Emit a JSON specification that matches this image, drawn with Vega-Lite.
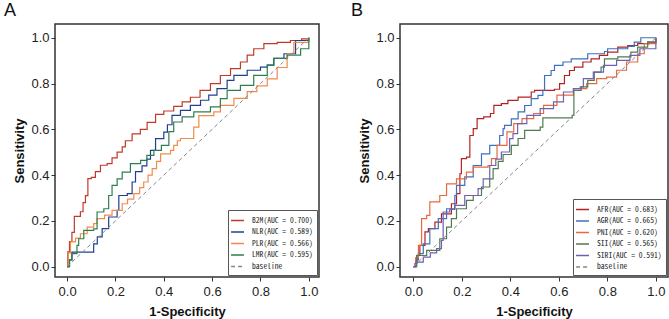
{
"$schema": "https://vega.github.io/schema/vega-lite/v6.json",
"padding": {"left": 3, "top": 1, "right": 0, "bottom": 0},
"bounds": "flush",
"spacing": 81,
"config": {
  "view": {"stroke": "#333333", "strokeWidth": 1.5},
  "axis": {"grid": false, "domain": false, "labelFont": "Liberation Sans", "labelFontSize": 13, "labelColor": "#222222", "tickSize": 4, "tickColor": "#333333", "tickWidth": 1, "titleFont": "Liberation Sans", "titleFontSize": 13, "titleFontWeight": "bold", "titleColor": "#111111", "labelFlush": false},
  "axisX": {"labelPadding": 4, "titlePadding": 7},
  "axisY": {"labelPadding": 2, "titlePadding": 4},
  "legend": {"orient": "bottom-right", "title": null, "symbolType": "M-1.35,0H1", "symbolSize": 121, "symbolStrokeWidth": 1.5, "labelFont": "Noto Sans Mono CJK SC, DejaVu Sans Mono", "labelFontSize": 7.6, "labelColor": "#222222", "strokeColor": "#555555", "fillColor": "white", "padding": 4, "offset": 2, "rowPadding": 0.5, "labelOffset": 7},
  "title": {"font": "Liberation Sans", "fontSize": 18, "fontWeight": "normal", "anchor": "start", "frame": "group", "color": "#111111"}
},
"resolve": {"scale": {"color": "independent", "strokeDash": "independent", "x": "independent", "y": "independent"}, "legend": {"color": "independent", "strokeDash": "independent"}},
"datasets": {
  "A": [
    {"s":"B2M(AUC = 0.700)","x":0,"y":0},{"s":"B2M(AUC = 0.700)","x":0.003,"y":0.065},{"s":"B2M(AUC = 0.700)","x":0.01,"y":0.11},{"s":"B2M(AUC = 0.700)","x":0.02,"y":0.15},{"s":"B2M(AUC = 0.700)","x":0.03,"y":0.22},{"s":"B2M(AUC = 0.700)","x":0.055,"y":0.24},{"s":"B2M(AUC = 0.700)","x":0.066,"y":0.28},{"s":"B2M(AUC = 0.700)","x":0.076,"y":0.31},{"s":"B2M(AUC = 0.700)","x":0.086,"y":0.385},{"s":"B2M(AUC = 0.700)","x":0.1,"y":0.39},{"s":"B2M(AUC = 0.700)","x":0.117,"y":0.415},{"s":"B2M(AUC = 0.700)","x":0.138,"y":0.443},{"s":"B2M(AUC = 0.700)","x":0.166,"y":0.45},{"s":"B2M(AUC = 0.700)","x":0.186,"y":0.475},{"s":"B2M(AUC = 0.700)","x":0.207,"y":0.5},{"s":"B2M(AUC = 0.700)","x":0.228,"y":0.523},{"s":"B2M(AUC = 0.700)","x":0.241,"y":0.55},{"s":"B2M(AUC = 0.700)","x":0.269,"y":0.58},{"s":"B2M(AUC = 0.700)","x":0.303,"y":0.6},{"s":"B2M(AUC = 0.700)","x":0.331,"y":0.63},{"s":"B2M(AUC = 0.700)","x":0.366,"y":0.665},{"s":"B2M(AUC = 0.700)","x":0.4,"y":0.68},{"s":"B2M(AUC = 0.700)","x":0.441,"y":0.7},{"s":"B2M(AUC = 0.700)","x":0.476,"y":0.72},{"s":"B2M(AUC = 0.700)","x":0.51,"y":0.74},{"s":"B2M(AUC = 0.700)","x":0.55,"y":0.77},{"s":"B2M(AUC = 0.700)","x":0.593,"y":0.8},{"s":"B2M(AUC = 0.700)","x":0.634,"y":0.835},{"s":"B2M(AUC = 0.700)","x":0.676,"y":0.865},{"s":"B2M(AUC = 0.700)","x":0.717,"y":0.894},{"s":"B2M(AUC = 0.700)","x":0.745,"y":0.924},{"s":"B2M(AUC = 0.700)","x":0.772,"y":0.952},{"s":"B2M(AUC = 0.700)","x":0.814,"y":0.974},{"s":"B2M(AUC = 0.700)","x":0.869,"y":0.98},{"s":"B2M(AUC = 0.700)","x":0.924,"y":0.988},{"s":"B2M(AUC = 0.700)","x":0.97,"y":0.995},{"s":"B2M(AUC = 0.700)","x":1,"y":1},
    {"s":"NLR(AUC = 0.589)","x":0,"y":0},{"s":"NLR(AUC = 0.589)","x":0.01,"y":0.03},{"s":"NLR(AUC = 0.589)","x":0.02,"y":0.064},{"s":"NLR(AUC = 0.589)","x":0.11,"y":0.1},{"s":"NLR(AUC = 0.589)","x":0.125,"y":0.13},{"s":"NLR(AUC = 0.589)","x":0.145,"y":0.166},{"s":"NLR(AUC = 0.589)","x":0.172,"y":0.217},{"s":"NLR(AUC = 0.589)","x":0.207,"y":0.246},{"s":"NLR(AUC = 0.589)","x":0.214,"y":0.311},{"s":"NLR(AUC = 0.589)","x":0.249,"y":0.319},{"s":"NLR(AUC = 0.589)","x":0.269,"y":0.37},{"s":"NLR(AUC = 0.589)","x":0.283,"y":0.415},{"s":"NLR(AUC = 0.589)","x":0.31,"y":0.44},{"s":"NLR(AUC = 0.589)","x":0.33,"y":0.47},{"s":"NLR(AUC = 0.589)","x":0.345,"y":0.508},{"s":"NLR(AUC = 0.589)","x":0.366,"y":0.559},{"s":"NLR(AUC = 0.589)","x":0.4,"y":0.588},{"s":"NLR(AUC = 0.589)","x":0.415,"y":0.62},{"s":"NLR(AUC = 0.589)","x":0.434,"y":0.661},{"s":"NLR(AUC = 0.589)","x":0.469,"y":0.683},{"s":"NLR(AUC = 0.589)","x":0.51,"y":0.705},{"s":"NLR(AUC = 0.589)","x":0.552,"y":0.727},{"s":"NLR(AUC = 0.589)","x":0.586,"y":0.749},{"s":"NLR(AUC = 0.589)","x":0.62,"y":0.778},{"s":"NLR(AUC = 0.589)","x":0.662,"y":0.814},{"s":"NLR(AUC = 0.589)","x":0.69,"y":0.836},{"s":"NLR(AUC = 0.589)","x":0.745,"y":0.858},{"s":"NLR(AUC = 0.589)","x":0.8,"y":0.872},{"s":"NLR(AUC = 0.589)","x":0.828,"y":0.88},{"s":"NLR(AUC = 0.589)","x":0.855,"y":0.91},{"s":"NLR(AUC = 0.589)","x":0.897,"y":0.93},{"s":"NLR(AUC = 0.589)","x":0.945,"y":0.988},{"s":"NLR(AUC = 0.589)","x":1,"y":1},
    {"s":"PLR(AUC = 0.566)","x":0,"y":0},{"s":"PLR(AUC = 0.566)","x":0.005,"y":0.06},{"s":"PLR(AUC = 0.566)","x":0.014,"y":0.108},{"s":"PLR(AUC = 0.566)","x":0.035,"y":0.125},{"s":"PLR(AUC = 0.566)","x":0.055,"y":0.144},{"s":"PLR(AUC = 0.566)","x":0.083,"y":0.173},{"s":"PLR(AUC = 0.566)","x":0.11,"y":0.188},{"s":"PLR(AUC = 0.566)","x":0.124,"y":0.21},{"s":"PLR(AUC = 0.566)","x":0.155,"y":0.225},{"s":"PLR(AUC = 0.566)","x":0.186,"y":0.246},{"s":"PLR(AUC = 0.566)","x":0.228,"y":0.275},{"s":"PLR(AUC = 0.566)","x":0.25,"y":0.295},{"s":"PLR(AUC = 0.566)","x":0.276,"y":0.319},{"s":"PLR(AUC = 0.566)","x":0.3,"y":0.345},{"s":"PLR(AUC = 0.566)","x":0.317,"y":0.37},{"s":"PLR(AUC = 0.566)","x":0.335,"y":0.4},{"s":"PLR(AUC = 0.566)","x":0.352,"y":0.428},{"s":"PLR(AUC = 0.566)","x":0.37,"y":0.46},{"s":"PLR(AUC = 0.566)","x":0.387,"y":0.493},{"s":"PLR(AUC = 0.566)","x":0.428,"y":0.508},{"s":"PLR(AUC = 0.566)","x":0.441,"y":0.53},{"s":"PLR(AUC = 0.566)","x":0.456,"y":0.55},{"s":"PLR(AUC = 0.566)","x":0.469,"y":0.56},{"s":"PLR(AUC = 0.566)","x":0.524,"y":0.61},{"s":"PLR(AUC = 0.566)","x":0.545,"y":0.66},{"s":"PLR(AUC = 0.566)","x":0.607,"y":0.676},{"s":"PLR(AUC = 0.566)","x":0.634,"y":0.705},{"s":"PLR(AUC = 0.566)","x":0.69,"y":0.735},{"s":"PLR(AUC = 0.566)","x":0.745,"y":0.765},{"s":"PLR(AUC = 0.566)","x":0.785,"y":0.79},{"s":"PLR(AUC = 0.566)","x":0.828,"y":0.82},{"s":"PLR(AUC = 0.566)","x":0.869,"y":0.87},{"s":"PLR(AUC = 0.566)","x":0.91,"y":0.93},{"s":"PLR(AUC = 0.566)","x":0.938,"y":0.98},{"s":"PLR(AUC = 0.566)","x":1,"y":1},
    {"s":"LMR(AUC = 0.595)","x":0,"y":0},{"s":"LMR(AUC = 0.595)","x":0.01,"y":0.03},{"s":"LMR(AUC = 0.595)","x":0.02,"y":0.057},{"s":"LMR(AUC = 0.595)","x":0.041,"y":0.093},{"s":"LMR(AUC = 0.595)","x":0.048,"y":0.122},{"s":"LMR(AUC = 0.595)","x":0.069,"y":0.159},{"s":"LMR(AUC = 0.595)","x":0.11,"y":0.165},{"s":"LMR(AUC = 0.595)","x":0.124,"y":0.239},{"s":"LMR(AUC = 0.595)","x":0.152,"y":0.253},{"s":"LMR(AUC = 0.595)","x":0.172,"y":0.311},{"s":"LMR(AUC = 0.595)","x":0.186,"y":0.355},{"s":"LMR(AUC = 0.595)","x":0.207,"y":0.384},{"s":"LMR(AUC = 0.595)","x":0.228,"y":0.413},{"s":"LMR(AUC = 0.595)","x":0.262,"y":0.45},{"s":"LMR(AUC = 0.595)","x":0.304,"y":0.464},{"s":"LMR(AUC = 0.595)","x":0.33,"y":0.486},{"s":"LMR(AUC = 0.595)","x":0.359,"y":0.508},{"s":"LMR(AUC = 0.595)","x":0.39,"y":0.53},{"s":"LMR(AUC = 0.595)","x":0.421,"y":0.59},{"s":"LMR(AUC = 0.595)","x":0.441,"y":0.632},{"s":"LMR(AUC = 0.595)","x":0.476,"y":0.654},{"s":"LMR(AUC = 0.595)","x":0.524,"y":0.676},{"s":"LMR(AUC = 0.595)","x":0.593,"y":0.698},{"s":"LMR(AUC = 0.595)","x":0.634,"y":0.734},{"s":"LMR(AUC = 0.595)","x":0.662,"y":0.77},{"s":"LMR(AUC = 0.595)","x":0.717,"y":0.792},{"s":"LMR(AUC = 0.595)","x":0.772,"y":0.836},{"s":"LMR(AUC = 0.595)","x":0.828,"y":0.88},{"s":"LMR(AUC = 0.595)","x":0.855,"y":0.91},{"s":"LMR(AUC = 0.595)","x":0.91,"y":0.924},{"s":"LMR(AUC = 0.595)","x":0.966,"y":0.952},{"s":"LMR(AUC = 0.595)","x":1,"y":1}
  ],
  "B": [
    {"s":"AFR(AUC = 0.683)","x":0,"y":0},{"s":"AFR(AUC = 0.683)","x":0.007,"y":0.013},{"s":"AFR(AUC = 0.683)","x":0.015,"y":0.05},{"s":"AFR(AUC = 0.683)","x":0.027,"y":0.093},{"s":"AFR(AUC = 0.683)","x":0.048,"y":0.152},{"s":"AFR(AUC = 0.683)","x":0.062,"y":0.166},{"s":"AFR(AUC = 0.683)","x":0.089,"y":0.195},{"s":"AFR(AUC = 0.683)","x":0.116,"y":0.231},{"s":"AFR(AUC = 0.683)","x":0.157,"y":0.275},{"s":"AFR(AUC = 0.683)","x":0.178,"y":0.319},{"s":"AFR(AUC = 0.683)","x":0.192,"y":0.406},{"s":"AFR(AUC = 0.683)","x":0.198,"y":0.472},{"s":"AFR(AUC = 0.683)","x":0.219,"y":0.479},{"s":"AFR(AUC = 0.683)","x":0.233,"y":0.573},{"s":"AFR(AUC = 0.683)","x":0.247,"y":0.603},{"s":"AFR(AUC = 0.683)","x":0.263,"y":0.647},{"s":"AFR(AUC = 0.683)","x":0.29,"y":0.654},{"s":"AFR(AUC = 0.683)","x":0.318,"y":0.669},{"s":"AFR(AUC = 0.683)","x":0.332,"y":0.705},{"s":"AFR(AUC = 0.683)","x":0.363,"y":0.712},{"s":"AFR(AUC = 0.683)","x":0.39,"y":0.726},{"s":"AFR(AUC = 0.683)","x":0.432,"y":0.741},{"s":"AFR(AUC = 0.683)","x":0.486,"y":0.763},{"s":"AFR(AUC = 0.683)","x":0.5,"y":0.77},{"s":"AFR(AUC = 0.683)","x":0.582,"y":0.775},{"s":"AFR(AUC = 0.683)","x":0.603,"y":0.8},{"s":"AFR(AUC = 0.683)","x":0.623,"y":0.835},{"s":"AFR(AUC = 0.683)","x":0.644,"y":0.857},{"s":"AFR(AUC = 0.683)","x":0.664,"y":0.872},{"s":"AFR(AUC = 0.683)","x":0.699,"y":0.894},{"s":"AFR(AUC = 0.683)","x":0.733,"y":0.908},{"s":"AFR(AUC = 0.683)","x":0.767,"y":0.923},{"s":"AFR(AUC = 0.683)","x":0.801,"y":0.937},{"s":"AFR(AUC = 0.683)","x":0.843,"y":0.959},{"s":"AFR(AUC = 0.683)","x":0.884,"y":0.966},{"s":"AFR(AUC = 0.683)","x":0.925,"y":0.974},{"s":"AFR(AUC = 0.683)","x":0.966,"y":0.981},{"s":"AFR(AUC = 0.683)","x":1,"y":1},
    {"s":"AGR(AUC = 0.665)","x":0,"y":0},{"s":"AGR(AUC = 0.665)","x":0.01,"y":0.03},{"s":"AGR(AUC = 0.665)","x":0.021,"y":0.057},{"s":"AGR(AUC = 0.665)","x":0.041,"y":0.1},{"s":"AGR(AUC = 0.665)","x":0.068,"y":0.166},{"s":"AGR(AUC = 0.665)","x":0.103,"y":0.21},{"s":"AGR(AUC = 0.665)","x":0.137,"y":0.253},{"s":"AGR(AUC = 0.665)","x":0.171,"y":0.311},{"s":"AGR(AUC = 0.665)","x":0.178,"y":0.355},{"s":"AGR(AUC = 0.665)","x":0.212,"y":0.392},{"s":"AGR(AUC = 0.665)","x":0.247,"y":0.442},{"s":"AGR(AUC = 0.665)","x":0.281,"y":0.493},{"s":"AGR(AUC = 0.665)","x":0.315,"y":0.53},{"s":"AGR(AUC = 0.665)","x":0.356,"y":0.573},{"s":"AGR(AUC = 0.665)","x":0.37,"y":0.603},{"s":"AGR(AUC = 0.665)","x":0.376,"y":0.617},{"s":"AGR(AUC = 0.665)","x":0.404,"y":0.646},{"s":"AGR(AUC = 0.665)","x":0.432,"y":0.676},{"s":"AGR(AUC = 0.665)","x":0.459,"y":0.704},{"s":"AGR(AUC = 0.665)","x":0.486,"y":0.734},{"s":"AGR(AUC = 0.665)","x":0.514,"y":0.748},{"s":"AGR(AUC = 0.665)","x":0.534,"y":0.77},{"s":"AGR(AUC = 0.665)","x":0.541,"y":0.835},{"s":"AGR(AUC = 0.665)","x":0.568,"y":0.857},{"s":"AGR(AUC = 0.665)","x":0.582,"y":0.879},{"s":"AGR(AUC = 0.665)","x":0.617,"y":0.894},{"s":"AGR(AUC = 0.665)","x":0.651,"y":0.908},{"s":"AGR(AUC = 0.665)","x":0.719,"y":0.93},{"s":"AGR(AUC = 0.665)","x":0.788,"y":0.94},{"s":"AGR(AUC = 0.665)","x":0.801,"y":0.952},{"s":"AGR(AUC = 0.665)","x":0.884,"y":0.962},{"s":"AGR(AUC = 0.665)","x":0.911,"y":0.981},{"s":"AGR(AUC = 0.665)","x":0.938,"y":1},{"s":"AGR(AUC = 0.665)","x":1,"y":1},
    {"s":"PNI(AUC = 0.620)","x":0,"y":0},{"s":"PNI(AUC = 0.620)","x":0.01,"y":0.04},{"s":"PNI(AUC = 0.620)","x":0.021,"y":0.093},{"s":"PNI(AUC = 0.620)","x":0.034,"y":0.21},{"s":"PNI(AUC = 0.620)","x":0.055,"y":0.224},{"s":"PNI(AUC = 0.620)","x":0.068,"y":0.283},{"s":"PNI(AUC = 0.620)","x":0.109,"y":0.311},{"s":"PNI(AUC = 0.620)","x":0.137,"y":0.362},{"s":"PNI(AUC = 0.620)","x":0.178,"y":0.384},{"s":"PNI(AUC = 0.620)","x":0.219,"y":0.413},{"s":"PNI(AUC = 0.620)","x":0.247,"y":0.435},{"s":"PNI(AUC = 0.620)","x":0.308,"y":0.442},{"s":"PNI(AUC = 0.620)","x":0.322,"y":0.472},{"s":"PNI(AUC = 0.620)","x":0.345,"y":0.53},{"s":"PNI(AUC = 0.620)","x":0.386,"y":0.589},{"s":"PNI(AUC = 0.620)","x":0.414,"y":0.625},{"s":"PNI(AUC = 0.620)","x":0.448,"y":0.647},{"s":"PNI(AUC = 0.620)","x":0.496,"y":0.669},{"s":"PNI(AUC = 0.620)","x":0.537,"y":0.705},{"s":"PNI(AUC = 0.620)","x":0.592,"y":0.749},{"s":"PNI(AUC = 0.620)","x":0.66,"y":0.778},{"s":"PNI(AUC = 0.620)","x":0.715,"y":0.8},{"s":"PNI(AUC = 0.620)","x":0.756,"y":0.821},{"s":"PNI(AUC = 0.620)","x":0.797,"y":0.828},{"s":"PNI(AUC = 0.620)","x":0.838,"y":0.858},{"s":"PNI(AUC = 0.620)","x":0.879,"y":0.894},{"s":"PNI(AUC = 0.620)","x":0.925,"y":0.93},{"s":"PNI(AUC = 0.620)","x":0.952,"y":0.974},{"s":"PNI(AUC = 0.620)","x":1,"y":1},
    {"s":"SII(AUC = 0.565)","x":0,"y":0},{"s":"SII(AUC = 0.565)","x":0.014,"y":0.049},{"s":"SII(AUC = 0.565)","x":0.055,"y":0.071},{"s":"SII(AUC = 0.565)","x":0.109,"y":0.122},{"s":"SII(AUC = 0.565)","x":0.137,"y":0.173},{"s":"SII(AUC = 0.565)","x":0.157,"y":0.21},{"s":"SII(AUC = 0.565)","x":0.178,"y":0.253},{"s":"SII(AUC = 0.565)","x":0.219,"y":0.29},{"s":"SII(AUC = 0.565)","x":0.247,"y":0.311},{"s":"SII(AUC = 0.565)","x":0.281,"y":0.348},{"s":"SII(AUC = 0.565)","x":0.315,"y":0.384},{"s":"SII(AUC = 0.565)","x":0.329,"y":0.428},{"s":"SII(AUC = 0.565)","x":0.35,"y":0.46},{"s":"SII(AUC = 0.565)","x":0.37,"y":0.49},{"s":"SII(AUC = 0.565)","x":0.404,"y":0.53},{"s":"SII(AUC = 0.565)","x":0.432,"y":0.56},{"s":"SII(AUC = 0.565)","x":0.459,"y":0.595},{"s":"SII(AUC = 0.565)","x":0.523,"y":0.61},{"s":"SII(AUC = 0.565)","x":0.534,"y":0.65},{"s":"SII(AUC = 0.565)","x":0.655,"y":0.661},{"s":"SII(AUC = 0.565)","x":0.662,"y":0.77},{"s":"SII(AUC = 0.565)","x":0.692,"y":0.785},{"s":"SII(AUC = 0.565)","x":0.719,"y":0.814},{"s":"SII(AUC = 0.565)","x":0.746,"y":0.85},{"s":"SII(AUC = 0.565)","x":0.774,"y":0.872},{"s":"SII(AUC = 0.565)","x":0.788,"y":0.908},{"s":"SII(AUC = 0.565)","x":0.843,"y":0.916},{"s":"SII(AUC = 0.565)","x":0.897,"y":0.937},{"s":"SII(AUC = 0.565)","x":0.925,"y":0.959},{"s":"SII(AUC = 0.565)","x":0.966,"y":0.981},{"s":"SII(AUC = 0.565)","x":1,"y":1},
    {"s":"SIRI(AUC = 0.591)","x":0,"y":0},{"s":"SIRI(AUC = 0.591)","x":0.01,"y":0.02},{"s":"SIRI(AUC = 0.591)","x":0.041,"y":0.042},{"s":"SIRI(AUC = 0.591)","x":0.07,"y":0.06},{"s":"SIRI(AUC = 0.591)","x":0.096,"y":0.079},{"s":"SIRI(AUC = 0.591)","x":0.116,"y":0.115},{"s":"SIRI(AUC = 0.591)","x":0.123,"y":0.239},{"s":"SIRI(AUC = 0.591)","x":0.15,"y":0.25},{"s":"SIRI(AUC = 0.591)","x":0.171,"y":0.268},{"s":"SIRI(AUC = 0.591)","x":0.212,"y":0.311},{"s":"SIRI(AUC = 0.591)","x":0.267,"y":0.341},{"s":"SIRI(AUC = 0.591)","x":0.288,"y":0.384},{"s":"SIRI(AUC = 0.591)","x":0.315,"y":0.442},{"s":"SIRI(AUC = 0.591)","x":0.34,"y":0.47},{"s":"SIRI(AUC = 0.591)","x":0.363,"y":0.501},{"s":"SIRI(AUC = 0.591)","x":0.397,"y":0.559},{"s":"SIRI(AUC = 0.591)","x":0.411,"y":0.581},{"s":"SIRI(AUC = 0.591)","x":0.43,"y":0.625},{"s":"SIRI(AUC = 0.591)","x":0.468,"y":0.661},{"s":"SIRI(AUC = 0.591)","x":0.523,"y":0.69},{"s":"SIRI(AUC = 0.591)","x":0.578,"y":0.72},{"s":"SIRI(AUC = 0.591)","x":0.619,"y":0.763},{"s":"SIRI(AUC = 0.591)","x":0.66,"y":0.778},{"s":"SIRI(AUC = 0.591)","x":0.688,"y":0.785},{"s":"SIRI(AUC = 0.591)","x":0.701,"y":0.821},{"s":"SIRI(AUC = 0.591)","x":0.742,"y":0.85},{"s":"SIRI(AUC = 0.591)","x":0.784,"y":0.879},{"s":"SIRI(AUC = 0.591)","x":0.838,"y":0.901},{"s":"SIRI(AUC = 0.591)","x":0.893,"y":0.923},{"s":"SIRI(AUC = 0.591)","x":0.934,"y":0.952},{"s":"SIRI(AUC = 0.591)","x":1,"y":1}
  ],
  "base": [{"s":"baseline","x":0,"y":0},{"s":"baseline","x":1,"y":1}]
},
"hconcat": [
  {
    "width": 264, "height": 253,
    "title": {"text": "A", "dx": -51, "offset": 4},
    "layer": [
      {"data": {"name": "A"}, "mark": {"type": "line", "interpolate": "step-after", "strokeWidth": 1.2},
       "encoding": {
         "x": {"field": "x", "type": "quantitative", "scale": {"domain": [-0.05, 1.042], "nice": false, "zero": false}, "axis": {"title": "1-Specificity", "values": [0, 0.2, 0.4, 0.6, 0.8, 1], "format": ".1f"}},
         "y": {"field": "y", "type": "quantitative", "scale": {"domain": [-0.045, 1.06], "nice": false, "zero": false}, "axis": {"title": "Sensitivity", "values": [0, 0.2, 0.4, 0.6, 0.8, 1], "format": ".1f"}},
         "color": {"field": "s", "type": "nominal", "scale": {"domain": ["B2M(AUC = 0.700)", "NLR(AUC = 0.589)", "PLR(AUC = 0.566)", "LMR(AUC = 0.595)", "baseline"], "range": ["#c0392b", "#1f3f8f", "#f08a4b", "#2e7d4f", "#888888"]}},
         "strokeDash": {"field": "s", "type": "nominal", "scale": {"domain": ["B2M(AUC = 0.700)", "NLR(AUC = 0.589)", "PLR(AUC = 0.566)", "LMR(AUC = 0.595)", "baseline"], "range": [[1, 0], [1, 0], [1, 0], [1, 0], [4, 3]]}}
       }},
      {"data": {"name": "base"}, "mark": {"type": "line", "strokeWidth": 1},
       "encoding": {
         "x": {"field": "x", "type": "quantitative"},
         "y": {"field": "y", "type": "quantitative"},
         "color": {"field": "s", "type": "nominal"},
         "strokeDash": {"field": "s", "type": "nominal"}
       }}
    ]
  },
  {
    "width": 268, "height": 253,
    "title": {"text": "B", "dx": -49, "offset": 4},
    "layer": [
      {"data": {"name": "B"}, "mark": {"type": "line", "interpolate": "step-after", "strokeWidth": 1.2},
       "encoding": {
         "x": {"field": "x", "type": "quantitative", "scale": {"domain": [-0.055, 1.05], "nice": false, "zero": false}, "axis": {"title": "1-Specificity", "values": [0, 0.2, 0.4, 0.6, 0.8, 1], "format": ".1f"}},
         "y": {"field": "y", "type": "quantitative", "scale": {"domain": [-0.045, 1.06], "nice": false, "zero": false}, "axis": {"title": "Sensitivity", "values": [0, 0.2, 0.4, 0.6, 0.8, 1], "format": ".1f"}},
         "color": {"field": "s", "type": "nominal", "scale": {"domain": ["AFR(AUC = 0.683)", "AGR(AUC = 0.665)", "PNI(AUC = 0.620)", "SII(AUC = 0.565)", "SIRI(AUC = 0.591)", "baseline"], "range": ["#b22222", "#3f6fc0", "#e8683f", "#4f7a4f", "#7060b0", "#888888"]}},
         "strokeDash": {"field": "s", "type": "nominal", "scale": {"domain": ["AFR(AUC = 0.683)", "AGR(AUC = 0.665)", "PNI(AUC = 0.620)", "SII(AUC = 0.565)", "SIRI(AUC = 0.591)", "baseline"], "range": [[1, 0], [1, 0], [1, 0], [1, 0], [1, 0], [4, 3]]}}
       }},
      {"data": {"name": "base"}, "mark": {"type": "line", "strokeWidth": 1},
       "encoding": {
         "x": {"field": "x", "type": "quantitative"},
         "y": {"field": "y", "type": "quantitative"},
         "color": {"field": "s", "type": "nominal"},
         "strokeDash": {"field": "s", "type": "nominal"}
       }}
    ]
  }
]
}
